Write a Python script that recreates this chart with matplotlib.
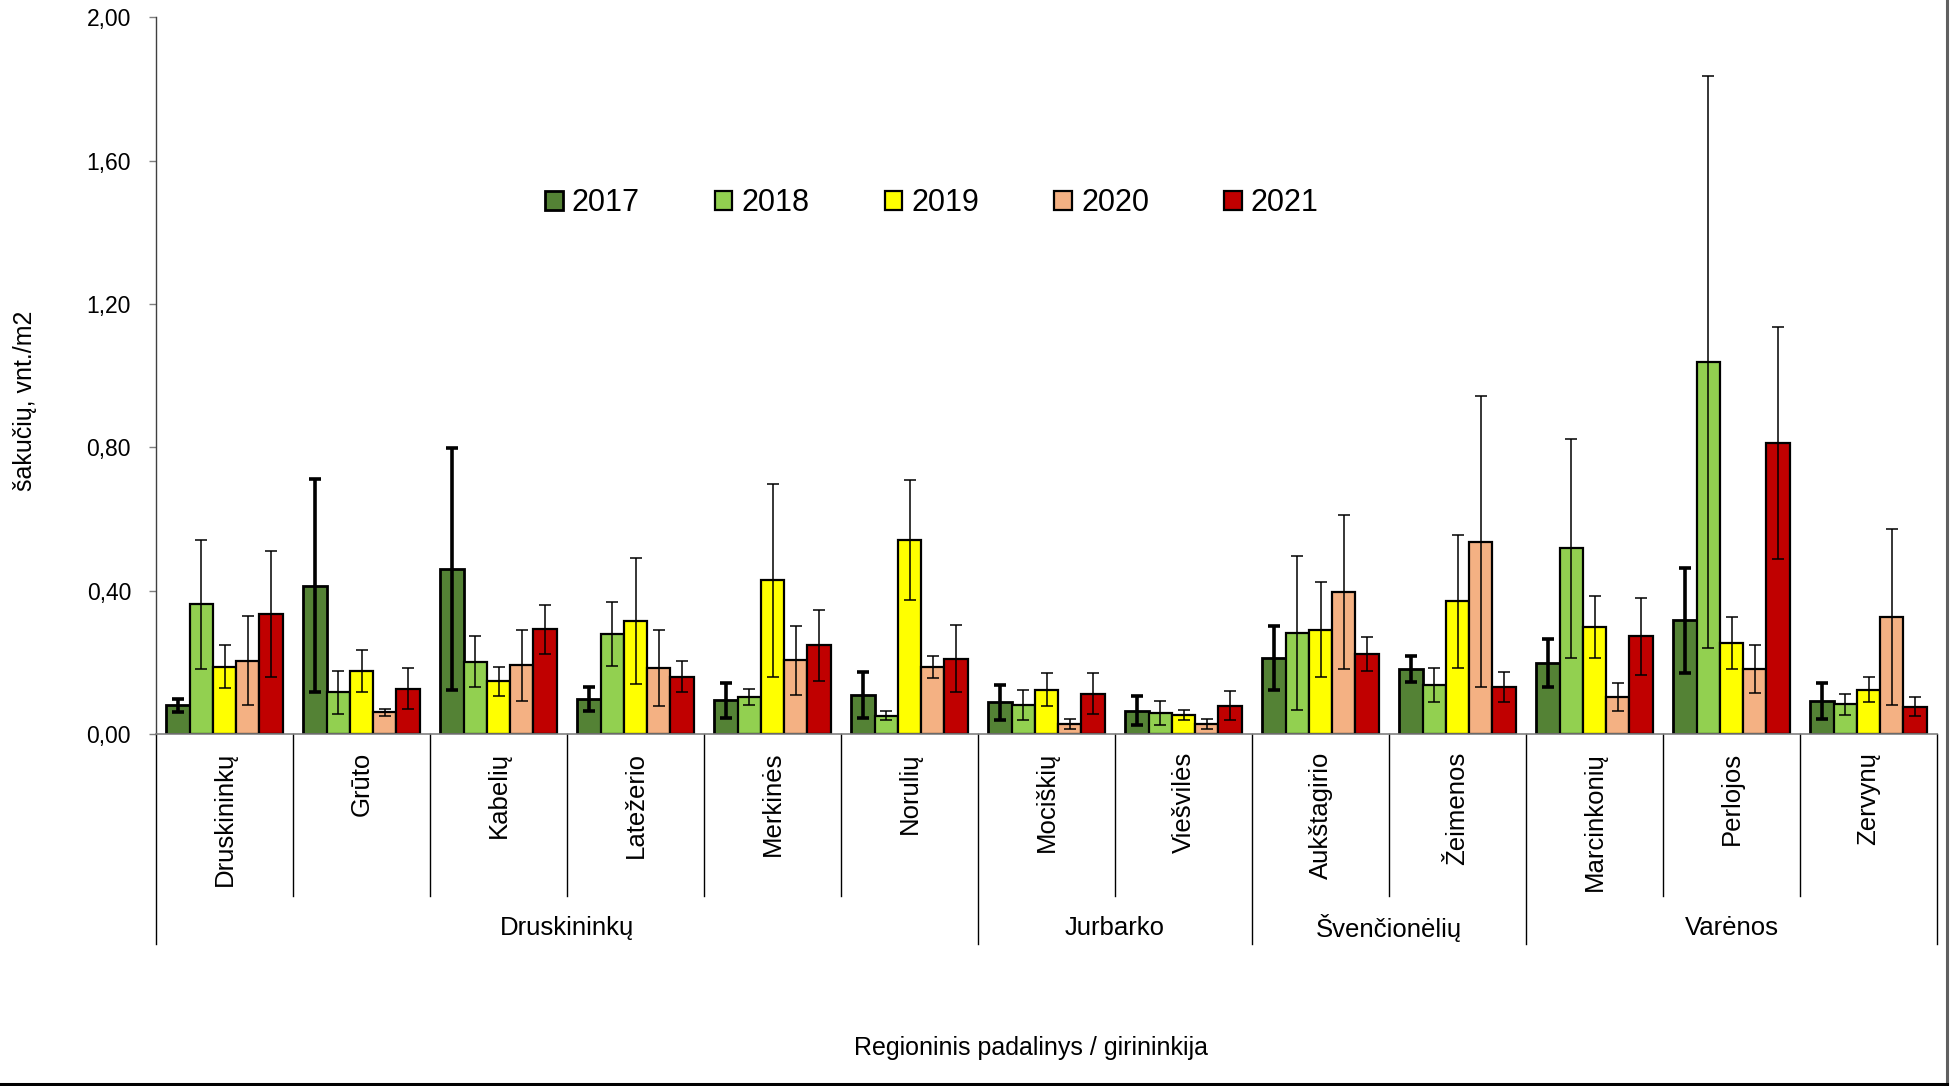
import matplotlib
matplotlib.use("Agg")
import matplotlib.pyplot as plt
from matplotlib.lines import Line2D
from matplotlib.ticker import FuncFormatter
import matplotlib.transforms as mtransforms
import numpy as np

plt.rcParams['font.family'] = ['Liberation Sans', 'DejaVu Sans']

# Forest districts (girininkijos) and the regional units they belong to
districts = ["Druskininkų", "Grūto", "Kabelių", "Latežerio", "Merkinės", "Norulių",
             "Mociškių", "Viešvilės", "Aukštagirio", "Žeimenos",
             "Marcinkonių", "Perlojos", "Zervynų"]
regions = ["Druskininkų", "Jurbarko", "Švenčionėlių", "Varėnos"]
region_sizes = [6, 2, 2, 3]

years = ["2017", "2018", "2019", "2020", "2021"]

# Mean density, units per m2
v2017 = [0.080, 0.414, 0.460, 0.098, 0.094, 0.109, 0.088, 0.065, 0.212, 0.181, 0.197, 0.317, 0.092]
v2018 = [0.362, 0.116, 0.202, 0.279, 0.103, 0.051, 0.081, 0.058, 0.282, 0.136, 0.518, 1.038, 0.083]
v2019 = [0.187, 0.176, 0.147, 0.315, 0.429, 0.541, 0.124, 0.052, 0.291, 0.370, 0.299, 0.253, 0.123]
v2020 = [0.205, 0.060, 0.192, 0.183, 0.206, 0.186, 0.029, 0.029, 0.396, 0.537, 0.102, 0.181, 0.326]
v2021 = [0.335, 0.126, 0.292, 0.160, 0.247, 0.210, 0.112, 0.079, 0.223, 0.131, 0.273, 0.812, 0.076]

# Error bar half-widths
e2017 = [0.019, 0.298, 0.337, 0.034, 0.049, 0.064, 0.049, 0.041, 0.089, 0.036, 0.067, 0.146, 0.050]
e2018 = [0.180, 0.061, 0.071, 0.090, 0.023, 0.012, 0.043, 0.034, 0.216, 0.048, 0.305, 0.798, 0.029]
e2019 = [0.060, 0.058, 0.040, 0.176, 0.270, 0.168, 0.046, 0.014, 0.133, 0.186, 0.086, 0.073, 0.035]
e2020 = [0.124, 0.010, 0.099, 0.106, 0.096, 0.031, 0.014, 0.014, 0.216, 0.406, 0.039, 0.067, 0.245]
e2021 = [0.176, 0.057, 0.069, 0.044, 0.098, 0.094, 0.057, 0.041, 0.047, 0.043, 0.107, 0.324, 0.027]

values = [v2017, v2018, v2019, v2020, v2021]
errors = [e2017, e2018, e2019, e2020, e2021]
colors = ["#548235", "#92D050", "#FFFF00", "#F4B183", "#C00000"]

W, H = 1951, 1086
fig = plt.figure(figsize=(W / 100, H / 100), dpi=100)
ax = fig.add_axes([156 / W, 1 - 734 / H, (1937 - 156) / W, (734 - 17.3) / H])

x = np.arange(len(districts))
bw = 0.17
handles = []
for i, (vals, errs, col) in enumerate(zip(values, errors, colors)):
    pos = x + (i - 2) * bw
    thick = (i == 0)
    b = ax.bar(pos, vals, width=bw, color=col, edgecolor="black",
               linewidth=2.0 if thick else 1.6, zorder=2, label=years[i])
    ax.errorbar(pos, vals, yerr=errs, fmt="none", ecolor="black",
                elinewidth=2.6 if thick else 1.1, capsize=4.3,
                capthick=2.6 if thick else 1.1, zorder=3)
    handles.append(b)

ax.set_xlim(-0.5, len(districts) - 0.5)
ax.set_ylim(0, 2.0)
ax.set_yticks(np.arange(0, 2.01, 0.4))
ax.yaxis.set_major_formatter(FuncFormatter(lambda v, p: f"{v:.2f}".replace(".", ",")))
ax.tick_params(axis="y", direction="out", length=4.8, width=1, color="#808080",
               labelsize=16.5, pad=13.2)
ax.set_xticks([])
for s in ["top", "right"]:
    ax.spines[s].set_visible(False)
ax.spines["left"].set_color("#404040")
ax.spines["left"].set_linewidth(1)
ax.spines["bottom"].set_color("#808080")
ax.spines["bottom"].set_linewidth(1.2)

# Category axis: district labels and separators
trans = mtransforms.blended_transform_factory(ax.transData, ax.transAxes)
ax_h = 734 - 17.3
inner_end = -(896 - 734) / ax_h
outer_end = -(944 - 734) / ax_h
boundaries = np.cumsum([0] + region_sizes)
for k in range(len(districts) + 1):
    xb = k - 0.5
    y_end = outer_end if k in boundaries else inner_end
    ax.add_line(Line2D([xb, xb], [0, y_end], transform=trans, color="black",
                       linewidth=1.0, clip_on=False))
for k, name in enumerate(districts):
    ax.text(k, -(752 - 734) / ax_h, name, transform=trans, rotation=90,
            ha="center", va="top", fontsize=18.5)
for r, name in enumerate(regions):
    center = (boundaries[r] + boundaries[r + 1]) / 2 - 0.5
    ax.text(center, -(928 - 734) / ax_h, name, transform=trans,
            ha="center", va="center", fontsize=18.5)

fig.text(1031 / W, 1 - 1048 / H, "Regioninis padalinys / girininkija",
         ha="center", va="center", fontsize=18)
fig.text(25 / W, 1 - 401 / H, "šakučių, vnt./m2", rotation=90,
         ha="center", va="center", fontsize=18)

leg = fig.legend(handles=handles, labels=years, loc="center left",
                 bbox_to_anchor=(545 / W, 1 - 203 / H), ncol=5, frameon=False,
                 fontsize=22, handlelength=0.58, handleheight=0.58,
                 handletextpad=0.3, columnspacing=2.45, borderpad=0,
                 borderaxespad=0)

# Outer chart frame (right and bottom edges)
fig.add_artist(Line2D([1946.5 / W, 1946.5 / W], [2 / H, 1], transform=fig.transFigure,
                      color="#606060", linewidth=2.2))
fig.add_artist(Line2D([0, 1947 / W], [2 / H, 2 / H], transform=fig.transFigure,
                      color="black", linewidth=2.2))

fig.savefig("out.png", dpi=100)
